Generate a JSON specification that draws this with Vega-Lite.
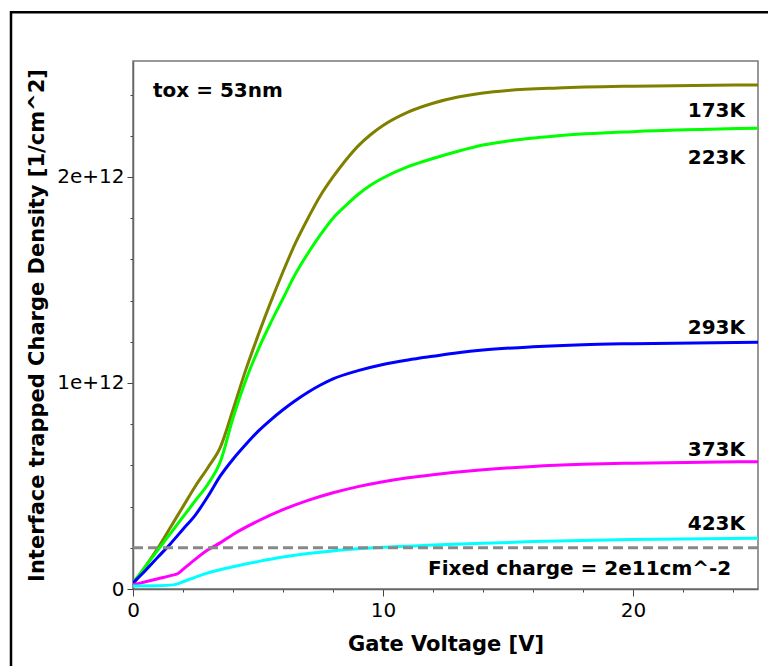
{
  "$schema": "https://vega.github.io/schema/vega-lite/v6.json",
  "width": 625,
  "height": 528,
  "autosize": {"type": "none"},
  "padding": {"left": 133, "top": 61, "right": 10, "bottom": 77},
  "background": "white",
  "config": {
    "view": {"stroke": "#777777", "strokeWidth": 1.5},
    "font": "DejaVu Sans"
  },
  "datasets": {
    "curves": [
      {"temp": "173K", "volt": 0, "dens": 0.02e12},
      {"temp": "173K", "volt": 0.5, "dens": 0.11e12},
      {"temp": "173K", "volt": 1, "dens": 0.2e12},
      {"temp": "173K", "volt": 1.5, "dens": 0.3e12},
      {"temp": "173K", "volt": 2, "dens": 0.4e12},
      {"temp": "173K", "volt": 2.5, "dens": 0.5e12},
      {"temp": "173K", "volt": 3, "dens": 0.59e12},
      {"temp": "173K", "volt": 3.5, "dens": 0.69e12},
      {"temp": "173K", "volt": 4, "dens": 0.87e12},
      {"temp": "173K", "volt": 4.5, "dens": 1.06e12},
      {"temp": "173K", "volt": 5, "dens": 1.23e12},
      {"temp": "173K", "volt": 5.5, "dens": 1.39e12},
      {"temp": "173K", "volt": 6, "dens": 1.54e12},
      {"temp": "173K", "volt": 6.5, "dens": 1.68e12},
      {"temp": "173K", "volt": 7, "dens": 1.8e12},
      {"temp": "173K", "volt": 7.5, "dens": 1.91e12},
      {"temp": "173K", "volt": 8, "dens": 2.0e12},
      {"temp": "173K", "volt": 8.5, "dens": 2.08e12},
      {"temp": "173K", "volt": 9, "dens": 2.15e12},
      {"temp": "173K", "volt": 9.5, "dens": 2.205e12},
      {"temp": "173K", "volt": 10, "dens": 2.25e12},
      {"temp": "173K", "volt": 11, "dens": 2.315e12},
      {"temp": "173K", "volt": 12, "dens": 2.358e12},
      {"temp": "173K", "volt": 13, "dens": 2.388e12},
      {"temp": "173K", "volt": 14, "dens": 2.408e12},
      {"temp": "173K", "volt": 15, "dens": 2.42e12},
      {"temp": "173K", "volt": 17, "dens": 2.432e12},
      {"temp": "173K", "volt": 20, "dens": 2.441e12},
      {"temp": "173K", "volt": 25, "dens": 2.447e12},
      {"temp": "223K", "volt": 0, "dens": 0.03e12},
      {"temp": "223K", "volt": 0.5, "dens": 0.11e12},
      {"temp": "223K", "volt": 1, "dens": 0.19e12},
      {"temp": "223K", "volt": 1.5, "dens": 0.27e12},
      {"temp": "223K", "volt": 2, "dens": 0.35e12},
      {"temp": "223K", "volt": 2.5, "dens": 0.43e12},
      {"temp": "223K", "volt": 3, "dens": 0.51e12},
      {"temp": "223K", "volt": 3.5, "dens": 0.62e12},
      {"temp": "223K", "volt": 4, "dens": 0.83e12},
      {"temp": "223K", "volt": 4.5, "dens": 1.01e12},
      {"temp": "223K", "volt": 5, "dens": 1.16e12},
      {"temp": "223K", "volt": 5.5, "dens": 1.29e12},
      {"temp": "223K", "volt": 6, "dens": 1.41e12},
      {"temp": "223K", "volt": 6.5, "dens": 1.53e12},
      {"temp": "223K", "volt": 7, "dens": 1.63e12},
      {"temp": "223K", "volt": 7.5, "dens": 1.72e12},
      {"temp": "223K", "volt": 8, "dens": 1.80e12},
      {"temp": "223K", "volt": 8.5, "dens": 1.86e12},
      {"temp": "223K", "volt": 9, "dens": 1.915e12},
      {"temp": "223K", "volt": 9.5, "dens": 1.96e12},
      {"temp": "223K", "volt": 10, "dens": 1.995e12},
      {"temp": "223K", "volt": 11, "dens": 2.05e12},
      {"temp": "223K", "volt": 12, "dens": 2.09e12},
      {"temp": "223K", "volt": 13, "dens": 2.125e12},
      {"temp": "223K", "volt": 14, "dens": 2.155e12},
      {"temp": "223K", "volt": 15, "dens": 2.175e12},
      {"temp": "223K", "volt": 17, "dens": 2.2e12},
      {"temp": "223K", "volt": 20, "dens": 2.22e12},
      {"temp": "223K", "volt": 25, "dens": 2.236e12},
      {"temp": "293K", "volt": 0, "dens": 0.03e12},
      {"temp": "293K", "volt": 0.5, "dens": 0.09e12},
      {"temp": "293K", "volt": 1, "dens": 0.155e12},
      {"temp": "293K", "volt": 1.5, "dens": 0.22e12},
      {"temp": "293K", "volt": 2, "dens": 0.29e12},
      {"temp": "293K", "volt": 2.5, "dens": 0.36e12},
      {"temp": "293K", "volt": 3, "dens": 0.45e12},
      {"temp": "293K", "volt": 3.5, "dens": 0.55e12},
      {"temp": "293K", "volt": 4, "dens": 0.63e12},
      {"temp": "293K", "volt": 4.5, "dens": 0.70e12},
      {"temp": "293K", "volt": 5, "dens": 0.765e12},
      {"temp": "293K", "volt": 5.5, "dens": 0.82e12},
      {"temp": "293K", "volt": 6, "dens": 0.87e12},
      {"temp": "293K", "volt": 6.5, "dens": 0.915e12},
      {"temp": "293K", "volt": 7, "dens": 0.955e12},
      {"temp": "293K", "volt": 7.5, "dens": 0.99e12},
      {"temp": "293K", "volt": 8, "dens": 1.02e12},
      {"temp": "293K", "volt": 9, "dens": 1.06e12},
      {"temp": "293K", "volt": 10, "dens": 1.09e12},
      {"temp": "293K", "volt": 11, "dens": 1.112e12},
      {"temp": "293K", "volt": 12, "dens": 1.13e12},
      {"temp": "293K", "volt": 13, "dens": 1.147e12},
      {"temp": "293K", "volt": 14, "dens": 1.16e12},
      {"temp": "293K", "volt": 16, "dens": 1.176e12},
      {"temp": "293K", "volt": 18, "dens": 1.186e12},
      {"temp": "293K", "volt": 20, "dens": 1.191e12},
      {"temp": "293K", "volt": 25, "dens": 1.198e12},
      {"temp": "373K", "volt": 0, "dens": 0.02e12},
      {"temp": "373K", "volt": 0.5, "dens": 0.035e12},
      {"temp": "373K", "volt": 1, "dens": 0.05e12},
      {"temp": "373K", "volt": 1.5, "dens": 0.065e12},
      {"temp": "373K", "volt": 1.8, "dens": 0.075e12},
      {"temp": "373K", "volt": 2, "dens": 0.095e12},
      {"temp": "373K", "volt": 2.5, "dens": 0.145e12},
      {"temp": "373K", "volt": 3, "dens": 0.19e12},
      {"temp": "373K", "volt": 3.5, "dens": 0.225e12},
      {"temp": "373K", "volt": 4, "dens": 0.265e12},
      {"temp": "373K", "volt": 5, "dens": 0.33e12},
      {"temp": "373K", "volt": 6, "dens": 0.385e12},
      {"temp": "373K", "volt": 7, "dens": 0.43e12},
      {"temp": "373K", "volt": 8, "dens": 0.467e12},
      {"temp": "373K", "volt": 9, "dens": 0.497e12},
      {"temp": "373K", "volt": 10, "dens": 0.521e12},
      {"temp": "373K", "volt": 11, "dens": 0.54e12},
      {"temp": "373K", "volt": 12, "dens": 0.555e12},
      {"temp": "373K", "volt": 14, "dens": 0.579e12},
      {"temp": "373K", "volt": 16, "dens": 0.595e12},
      {"temp": "373K", "volt": 18, "dens": 0.605e12},
      {"temp": "373K", "volt": 20, "dens": 0.611e12},
      {"temp": "373K", "volt": 25, "dens": 0.618e12},
      {"temp": "423K", "volt": 0, "dens": 0.015e12},
      {"temp": "423K", "volt": 1, "dens": 0.016e12},
      {"temp": "423K", "volt": 1.6, "dens": 0.02e12},
      {"temp": "423K", "volt": 2, "dens": 0.035e12},
      {"temp": "423K", "volt": 2.5, "dens": 0.058e12},
      {"temp": "423K", "volt": 3, "dens": 0.078e12},
      {"temp": "423K", "volt": 4, "dens": 0.108e12},
      {"temp": "423K", "volt": 5, "dens": 0.133e12},
      {"temp": "423K", "volt": 6, "dens": 0.155e12},
      {"temp": "423K", "volt": 7, "dens": 0.172e12},
      {"temp": "423K", "volt": 8, "dens": 0.185e12},
      {"temp": "423K", "volt": 9, "dens": 0.195e12},
      {"temp": "423K", "volt": 10, "dens": 0.203e12},
      {"temp": "423K", "volt": 12, "dens": 0.213e12},
      {"temp": "423K", "volt": 14, "dens": 0.222e12},
      {"temp": "423K", "volt": 16, "dens": 0.23e12},
      {"temp": "423K", "volt": 18, "dens": 0.236e12},
      {"temp": "423K", "volt": 20, "dens": 0.24e12},
      {"temp": "423K", "volt": 25, "dens": 0.246e12}
    ],
    "labels": [
      {"text": "173K", "volt": 24.48, "dens": 2.32e12},
      {"text": "223K", "volt": 24.48, "dens": 2.091e12},
      {"text": "293K", "volt": 24.48, "dens": 1.267e12},
      {"text": "373K", "volt": 24.48, "dens": 0.673e12},
      {"text": "423K", "volt": 24.48, "dens": 0.317e12},
      {"text": "Fixed charge = 2e11cm^-2", "volt": 23.93, "dens": 0.097e12}
    ],
    "notes": [
      {"text": "tox = 53nm", "volt": 0.8, "dens": 2.417e12}
    ],
    "fixed": [{"dens": 2e11}]
  },
  "layer": [
    {
      "data": {"name": "curves"},
      "mark": {"type": "line", "strokeWidth": 3, "interpolate": "monotone", "clip": true},
      "encoding": {
        "x": {
          "field": "volt", "type": "quantitative",
          "scale": {"domain": [0, 25], "nice": false, "zero": false},
          "axis": {
            "title": "Gate Voltage [V]",
            "values": [0,1,2,3,4,5,6,7,8,9,10,11,12,13,14,15,16,17,18,19,20,21,22,23,24,25],
            "labelExpr": "datum.value % 10 === 0 ? datum.label : ''",
            "tickSize": {"condition": {"test": "datum.value % 10 === 0", "value": 7}, "value": 3},
            "grid": false,
            "domainColor": "#666666", "domainWidth": 1.5,
            "tickColor": "#444444", "tickWidth": 1,
            "labelFont": "DejaVu Sans", "labelFontSize": 20, "labelColor": "black", "labelPadding": 4,
            "labelFlush": false,
            "titleFont": "DejaVu Sans", "titleFontSize": 21, "titleFontWeight": "bold", "titleColor": "black", "titlePadding": 13
          }
        },
        "y": {
          "field": "dens", "type": "quantitative",
          "scale": {"domain": [0, 2.563e12], "nice": false},
          "axis": {
            "title": "Interface trapped Charge Density [1/cm^2]",
            "values": [0,1e11,2e11,3e11,4e11,5e11,6e11,7e11,8e11,9e11,1e12,1.1e12,1.2e12,1.3e12,1.4e12,1.5e12,1.6e12,1.7e12,1.8e12,1.9e12,2e12,2.1e12,2.2e12,2.3e12,2.4e12,2.5e12],
            "labelExpr": "datum.value === 0 ? '0' : (datum.value === 1e12 ? '1e+12' : (datum.value === 2e12 ? '2e+12' : ''))",
            "tickSize": {"condition": {"test": "datum.value === 0 || datum.value === 1e12 || datum.value === 2e12", "value": 6}, "value": 3},
            "grid": false,
            "domainColor": "#666666", "domainWidth": 1.5,
            "tickColor": "#444444", "tickWidth": 1,
            "labelFont": "DejaVu Sans", "labelFontSize": 20, "labelColor": "black", "labelPadding": 3,
            "labelFlush": false,
            "titleFont": "DejaVu Sans", "titleFontSize": 21, "titleFontWeight": "bold", "titleColor": "black", "titlePadding": 9
          }
        },
        "color": {
          "field": "temp", "type": "nominal",
          "scale": {"domain": ["173K", "223K", "293K", "373K", "423K"], "range": ["#808000", "#00ff00", "#0000ff", "#ff00ff", "#00ffff"]},
          "legend": null
        }
      }
    },
    {
      "data": {"name": "fixed"},
      "mark": {"type": "rule", "color": "#888888", "strokeWidth": 3, "strokeDash": [10, 5]},
      "encoding": {
        "y": {"field": "dens", "type": "quantitative"}
      }
    },
    {
      "data": {"name": "labels"},
      "mark": {"type": "text", "align": "right", "baseline": "middle", "font": "DejaVu Sans", "fontSize": 20, "fontWeight": "bold", "color": "black"},
      "encoding": {
        "x": {"field": "volt", "type": "quantitative"},
        "y": {"field": "dens", "type": "quantitative"},
        "text": {"field": "text"}
      }
    },
    {
      "data": {"name": "notes"},
      "mark": {"type": "text", "align": "left", "baseline": "middle", "font": "DejaVu Sans", "fontSize": 20, "fontWeight": "bold", "color": "black"},
      "encoding": {
        "x": {"field": "volt", "type": "quantitative"},
        "y": {"field": "dens", "type": "quantitative"},
        "text": {"field": "text"}
      }
    },
    {
      "data": {"values": [{}]},
      "mark": {"type": "rect", "fill": null, "stroke": "black", "strokeWidth": 2.5, "clip": false},
      "encoding": {
        "x": {"datum": -4.88, "type": "quantitative"},
        "x2": {"datum": 27},
        "y": {"datum": 2.8e12, "type": "quantitative"},
        "y2": {"datum": -0.6e12}
      }
    }
  ]
}
